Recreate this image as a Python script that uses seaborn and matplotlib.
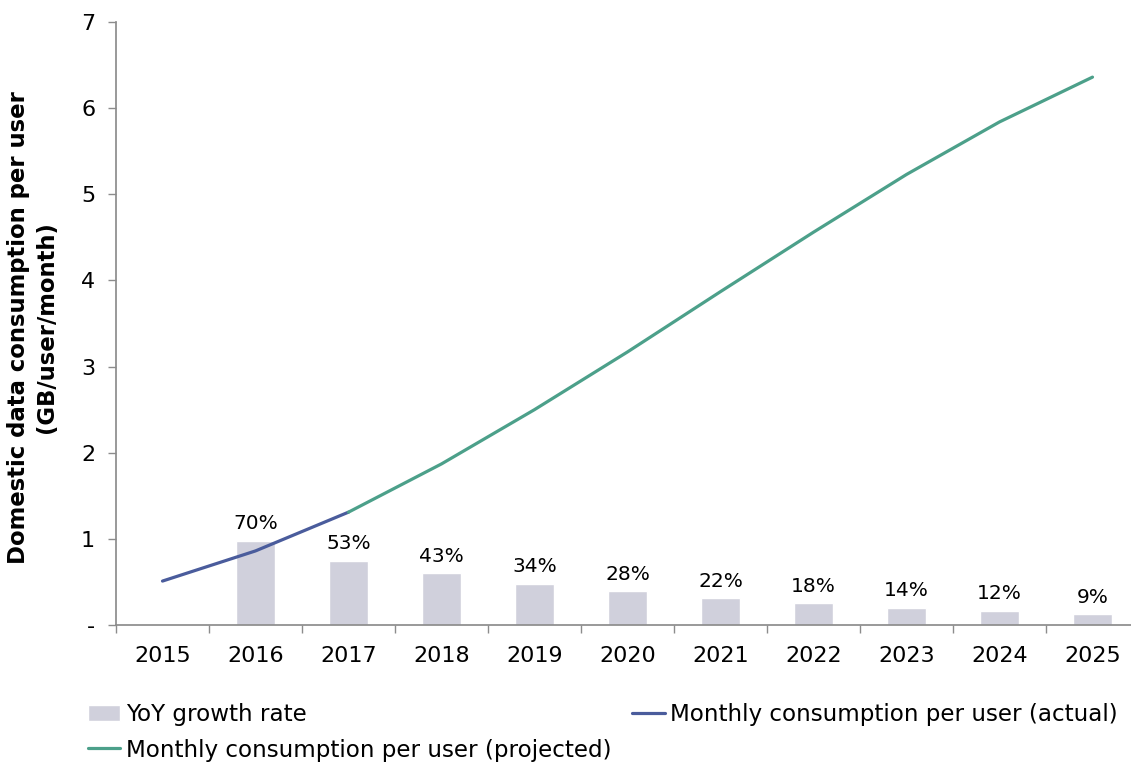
import matplotlib
matplotlib.use("Agg")
import matplotlib.pyplot as plt
import matplotlib.ticker as mticker
import seaborn as sns
import pandas as pd

# Data
years = ["2015", "2016", "2017", "2018", "2019", "2020", "2021", "2022", "2023", "2024", "2025"]
growth_years = ["2016", "2017", "2018", "2019", "2020", "2021", "2022", "2023", "2024", "2025"]
growth_pct = [70, 53, 43, 34, 28, 22, 18, 14, 12, 9]
actual_years = ["2015", "2016", "2017"]
actual_gb = [0.51, 0.86, 1.31]
projected_years = ["2017", "2018", "2019", "2020", "2021", "2022", "2023", "2024", "2025"]
projected_gb = [1.31, 1.87, 2.50, 3.17, 3.87, 4.56, 5.23, 5.84, 6.36]

BAR_COLOR = "#D0D0DC"
ACTUAL_COLOR = "#4A5C9C"
PROJ_COLOR = "#4CA08A"
SPINE_COLOR = "#8C8C8C"

sns.set_theme(style="white")
plt.rcParams["font.family"] = ["DejaVu Sans"]
plt.rcParams["text.color"] = "black"
plt.rcParams["axes.labelcolor"] = "black"

fig = plt.figure(figsize=(11.31, 7.63), dpi=100)
ax = fig.add_axes([116 / 1131, 138 / 763, 1023 / 1131, 603 / 763])
ax2 = ax.twinx()

# Growth-rate bars on a hidden secondary scale
bars_df = pd.DataFrame({"year": growth_years, "growth": growth_pct})
sns.barplot(data=bars_df, x="year", y="growth", order=years, ax=ax2,
            color=BAR_COLOR, width=0.41, saturation=1, label="YoY growth rate")
ax2.set_ylim(0, 500)
ax2.set_yticks([])
ax2.set_ylabel("")
for c in ax2.containers:
    ax2.bar_label(c, labels=[f"{v:.0f}%" for v in growth_pct], padding=5.5,
                  fontsize=14.5, color="black")

# Consumption lines on the primary scale
act_df = pd.DataFrame({"x": [years.index(y) for y in actual_years], "gb": actual_gb})
proj_df = pd.DataFrame({"x": [years.index(y) for y in projected_years], "gb": projected_gb})
sns.lineplot(data=act_df, x="x", y="gb", ax=ax, color=ACTUAL_COLOR, linewidth=2.3,
             label="Monthly consumption per user (actual)")
sns.lineplot(data=proj_df, x="x", y="gb", ax=ax, color=PROJ_COLOR, linewidth=2.3,
             label="Monthly consumption per user (projected)")

ax.set_zorder(ax2.get_zorder() + 1)
ax.patch.set_visible(False)

ax.set_xlim(-0.5, len(years) - 0.5)
ax.set_ylim(0, 7)
ax.set_yticks(range(0, 8))
ax.yaxis.set_major_formatter(mticker.FuncFormatter(lambda v, p: "-" if v == 0 else f"{v:.0f}"))
ax.set_xticks(range(len(years)))
ax.set_xticklabels(years)
ax.set_xticks([i - 0.5 for i in range(len(years) + 1)], minor=True)
ax.tick_params(axis="x", which="major", length=0, pad=15, labelsize=16, labelcolor="black")
ax.tick_params(axis="x", which="minor", length=5.5, width=1, color=SPINE_COLOR,
               direction="out", bottom=True)
ax.tick_params(axis="y", length=6, width=1, color=SPINE_COLOR, direction="out", pad=9,
               labelsize=16, labelcolor="black", left=True)
ax.set_xlabel("")
ax.set_ylabel("Domestic data consumption per user\n(GB/user/month)", fontsize=16.4,
              fontweight="bold", linespacing=1.25)
ax.yaxis.set_label_coords(-0.057, 0.494)

for a in (ax, ax2):
    for s in ("top", "right", "left", "bottom"):
        a.spines[s].set_visible(False)
ax.spines["left"].set_visible(True)
ax.spines["bottom"].set_visible(True)
ax.spines["left"].set_color(SPINE_COLOR)
ax.spines["bottom"].set_color(SPINE_COLOR)

# Legend below the plot
h1, l1 = ax2.get_legend_handles_labels()
h2, l2 = ax.get_legend_handles_labels()
for a in (ax, ax2):
    if a.get_legend():
        a.get_legend().remove()
handles = [h1[0], h2[1], h2[0]]
labels = [l1[0], l2[1], l2[0]]
fig.legend(handles, labels, ncol=2, loc="upper left",
           bbox_to_anchor=(88 / 1131, 1 - 703 / 763), frameon=False,
           fontsize=16.6, handlelength=1.4, handleheight=0.75, handletextpad=0.25,
           columnspacing=0.9, labelspacing=0.55, borderpad=0, borderaxespad=0)

fig.savefig("out.png", dpi=100)
